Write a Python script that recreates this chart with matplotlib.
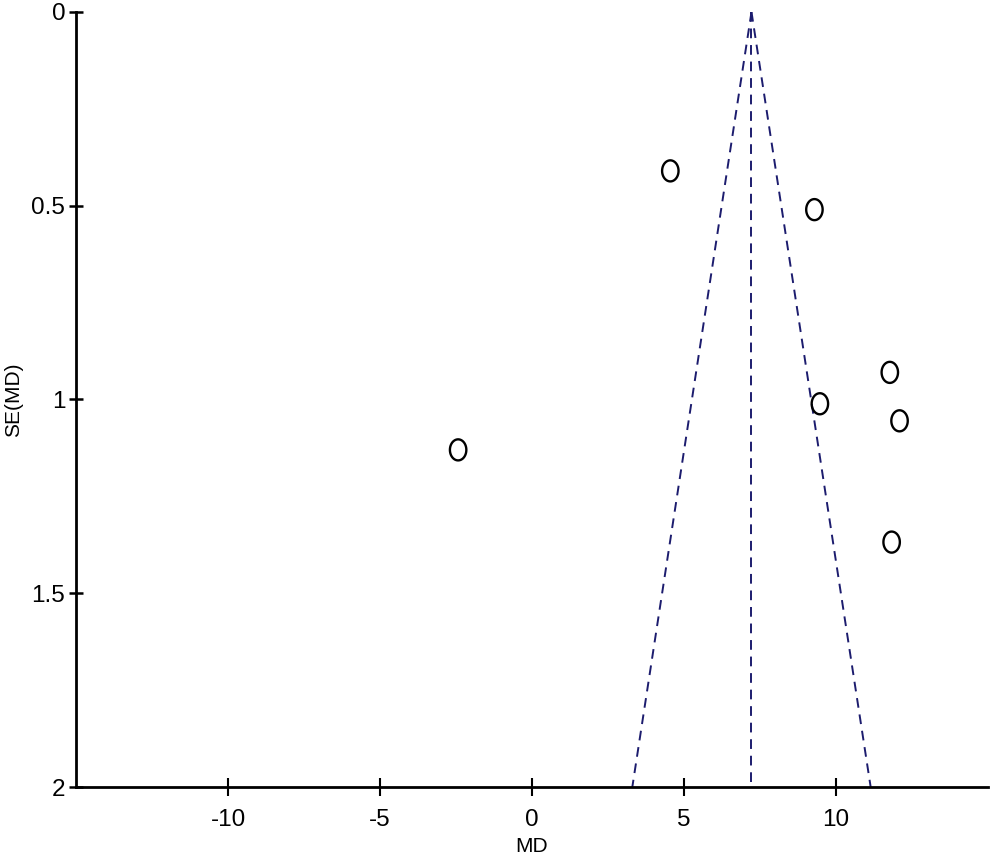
import matplotlib
matplotlib.use("Agg")
import matplotlib.pyplot as plt
import numpy as np
from matplotlib.path import Path
from matplotlib import font_manager

# ---- data ----
md = [4.55, 9.29, 11.77, 9.47, 12.09, -2.43, 11.83]
se_md = [0.41, 0.51, 0.93, 1.011, 1.055, 1.13, 1.368]
pooled_md = 7.22
se_max = 2.0
z = 1.96
x_ticks = [-10, -5, 0, 5, 10]
y_ticks = [0, 0.5, 1, 1.5, 2]
y_ticklabels = ["0", "0.5", "1", "1.5", "2"]

names = {f.name for f in font_manager.fontManager.ttflist}
fam = ["Liberation Sans Narrow", "Liberation Sans", "DejaVu Sans"]
fam = [f for f in fam if f in names] or ["DejaVu Sans"]
plt.rcParams["font.family"] = fam
plt.rcParams["axes.unicode_minus"] = False

fig = plt.figure(figsize=(9.92, 8.55), dpi=100)
ax = fig.add_axes([76/992, 1-787/855, (988-76)/992, (787-12)/855])

# funnel lines
se_line = np.array([0.0, se_max])
navy = "#1c1c6e"
dash = (0, (5, 3.5))
ax.plot([pooled_md, pooled_md], [0, se_max], ls=dash, color=navy, lw=1.4)
ax.plot(pooled_md - z*se_line, se_line, ls=dash, color=navy, lw=1.4)
ax.plot(pooled_md + z*se_line, se_line, ls=dash, color=navy, lw=1.4)

# ellipse marker (image is slightly squashed horizontally)
t = np.linspace(0, 2*np.pi, 60)
verts = np.column_stack([0.78*np.cos(t), np.sin(t)])
ell = Path(verts, closed=True)
ax.scatter(md, se_md, marker=ell, s=230, facecolors="none", edgecolors="black",
           linewidths=1.7, zorder=3)

ax.set_xlim(-15, 15)
ax.set_ylim(2, 0)
ax.set_xticks(x_ticks)
ax.set_yticks(y_ticks)
ax.set_yticklabels(y_ticklabels)

for s in ["top", "right"]:
    ax.spines[s].set_visible(False)
for s in ["left", "bottom"]:
    ax.spines[s].set_linewidth(2.0)
    ax.spines[s].set_color("black")

ax.tick_params(axis="x", direction="inout", length=13, width=1.5, pad=9, labelsize=17.5)
ax.tick_params(axis="y", direction="inout", length=9.5, width=1.8, pad=3, labelsize=17.5)

ax.set_xlabel("MD", fontsize=15, labelpad=5)
ax.set_ylabel("SE(MD)", fontsize=15, labelpad=6)

fig.savefig("out.png", dpi=100, facecolor="white")
